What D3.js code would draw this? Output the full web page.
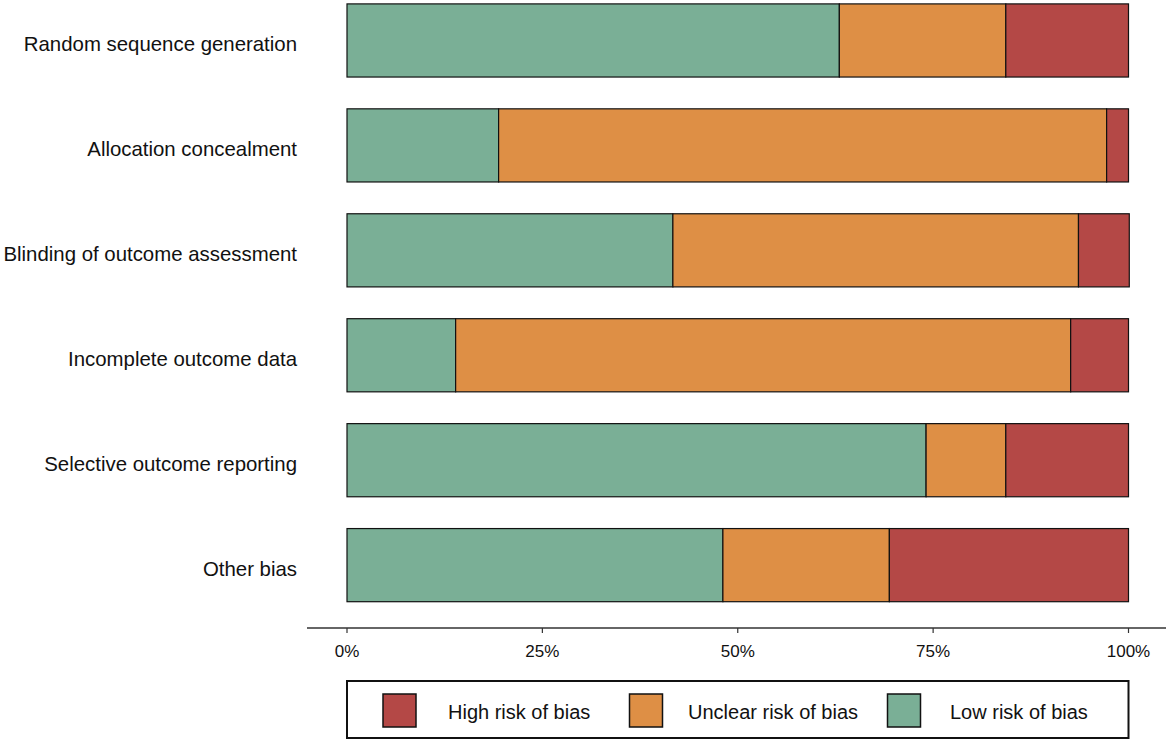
<!DOCTYPE html>
<html>
<head>
<meta charset="utf-8">
<script src="https://cdn.jsdelivr.net/npm/d3@7"></script>
<style>
  body { margin: 0; background: #fff; }
  svg { display: block; font-family: "Liberation Sans", Arial, sans-serif; }
</style>
</head>
<body>
<svg width="1170" height="743"></svg>
<script>
// risk of bias domains, top to bottom
const domains = [
  "Random sequence generation",
  "Allocation concealment",
  "Blinding of outcome assessment",
  "Incomplete outcome data",
  "Selective outcome reporting",
  "Other bias"
];

// percent of studies in each category
const lowRisk     = [63.0, 19.4, 41.7, 13.9, 74.1, 48.1];
const unclearRisk = [21.3, 77.8, 51.9, 78.7, 10.2, 21.3];
const highRisk    = [15.7,  2.8,  6.5,  7.4, 15.7, 30.6];

const tickValues = [0, 25, 50, 75, 100];
const tickLabels = ["0%", "25%", "50%", "75%", "100%"];

const legendLabels = ["High risk of bias", "Unclear risk of bias", "Low risk of bias"];

const colors = { low: "#7aaf96", unclear: "#de8f45", high: "#b44846" };

const svg = d3.select("svg");

const x = d3.scaleLinear().domain([0, 100]).range([347, 1128.5]);
const y = d3.scaleBand().domain(domains).range([-12, 617.6])
  .paddingInner(0.303).paddingOuter(0.1515);

// stack the three series: low, unclear, high
const rows = domains.map((d, i) => ({ domain: d, low: lowRisk[i], unclear: unclearRisk[i], high: highRisk[i] }));
const stack = d3.stack().keys(["low", "unclear", "high"])(rows);

svg.append("g")
  .selectAll("g")
  .data(stack)
  .join("g")
  .attr("fill", s => colors[s.key])
  .selectAll("rect")
  .data(s => s)
  .join("rect")
  .attr("x", d => x(d[0]))
  .attr("y", d => y(d.data.domain))
  .attr("width", d => x(d[1]) - x(d[0]))
  .attr("height", y.bandwidth())
  .attr("stroke", "#111")
  .attr("stroke-width", 1.2);

// category labels
svg.append("g")
  .selectAll("text")
  .data(domains)
  .join("text")
  .attr("x", 297)
  .attr("y", d => y(d) + y.bandwidth() / 2 + 10.7)
  .attr("text-anchor", "end")
  .attr("font-size", 20.4)
  .attr("fill", "#111")
  .text(d => d);

// x axis
const axis = svg.append("g").attr("transform", "translate(0,628)");
axis.append("line")
  .attr("x1", 307).attr("x2", 1166)
  .attr("stroke", "#333").attr("stroke-width", 1.5);
axis.selectAll(".tick")
  .data(tickValues)
  .join("line")
  .attr("class", "tick")
  .attr("x1", d => x(d)).attr("x2", d => x(d))
  .attr("y1", 0).attr("y2", 5)
  .attr("stroke", "#333").attr("stroke-width", 1.2);
axis.selectAll(".lab")
  .data(tickValues)
  .join("text")
  .attr("class", "lab")
  .attr("x", d => x(d))
  .attr("y", 29)
  .attr("text-anchor", "middle")
  .attr("font-size", 17)
  .attr("fill", "#111")
  .text((d, i) => tickLabels[i]);

// legend
const legend = svg.append("g");
legend.append("rect")
  .attr("x", x(0)).attr("y", 681)
  .attr("width", x(100) - x(0)).attr("height", 57)
  .attr("fill", "none").attr("stroke", "#111").attr("stroke-width", 2);

const legendColors = [colors.high, colors.unclear, colors.low];
const swatchX = [383, 629.5, 887.5];
const labelX = [448, 688, 950];

const item = legend.selectAll(".item")
  .data(legendLabels)
  .join("g")
  .attr("class", "item");
item.append("rect")
  .attr("x", (d, i) => swatchX[i]).attr("y", 694)
  .attr("width", 33).attr("height", 33)
  .attr("fill", (d, i) => legendColors[i])
  .attr("stroke", "#111").attr("stroke-width", 1.5);
item.append("text")
  .attr("x", (d, i) => labelX[i])
  .attr("y", 718.5)
  .attr("font-size", 20)
  .attr("fill", "#111")
  .text(d => d);
</script>
</body>
</html>
